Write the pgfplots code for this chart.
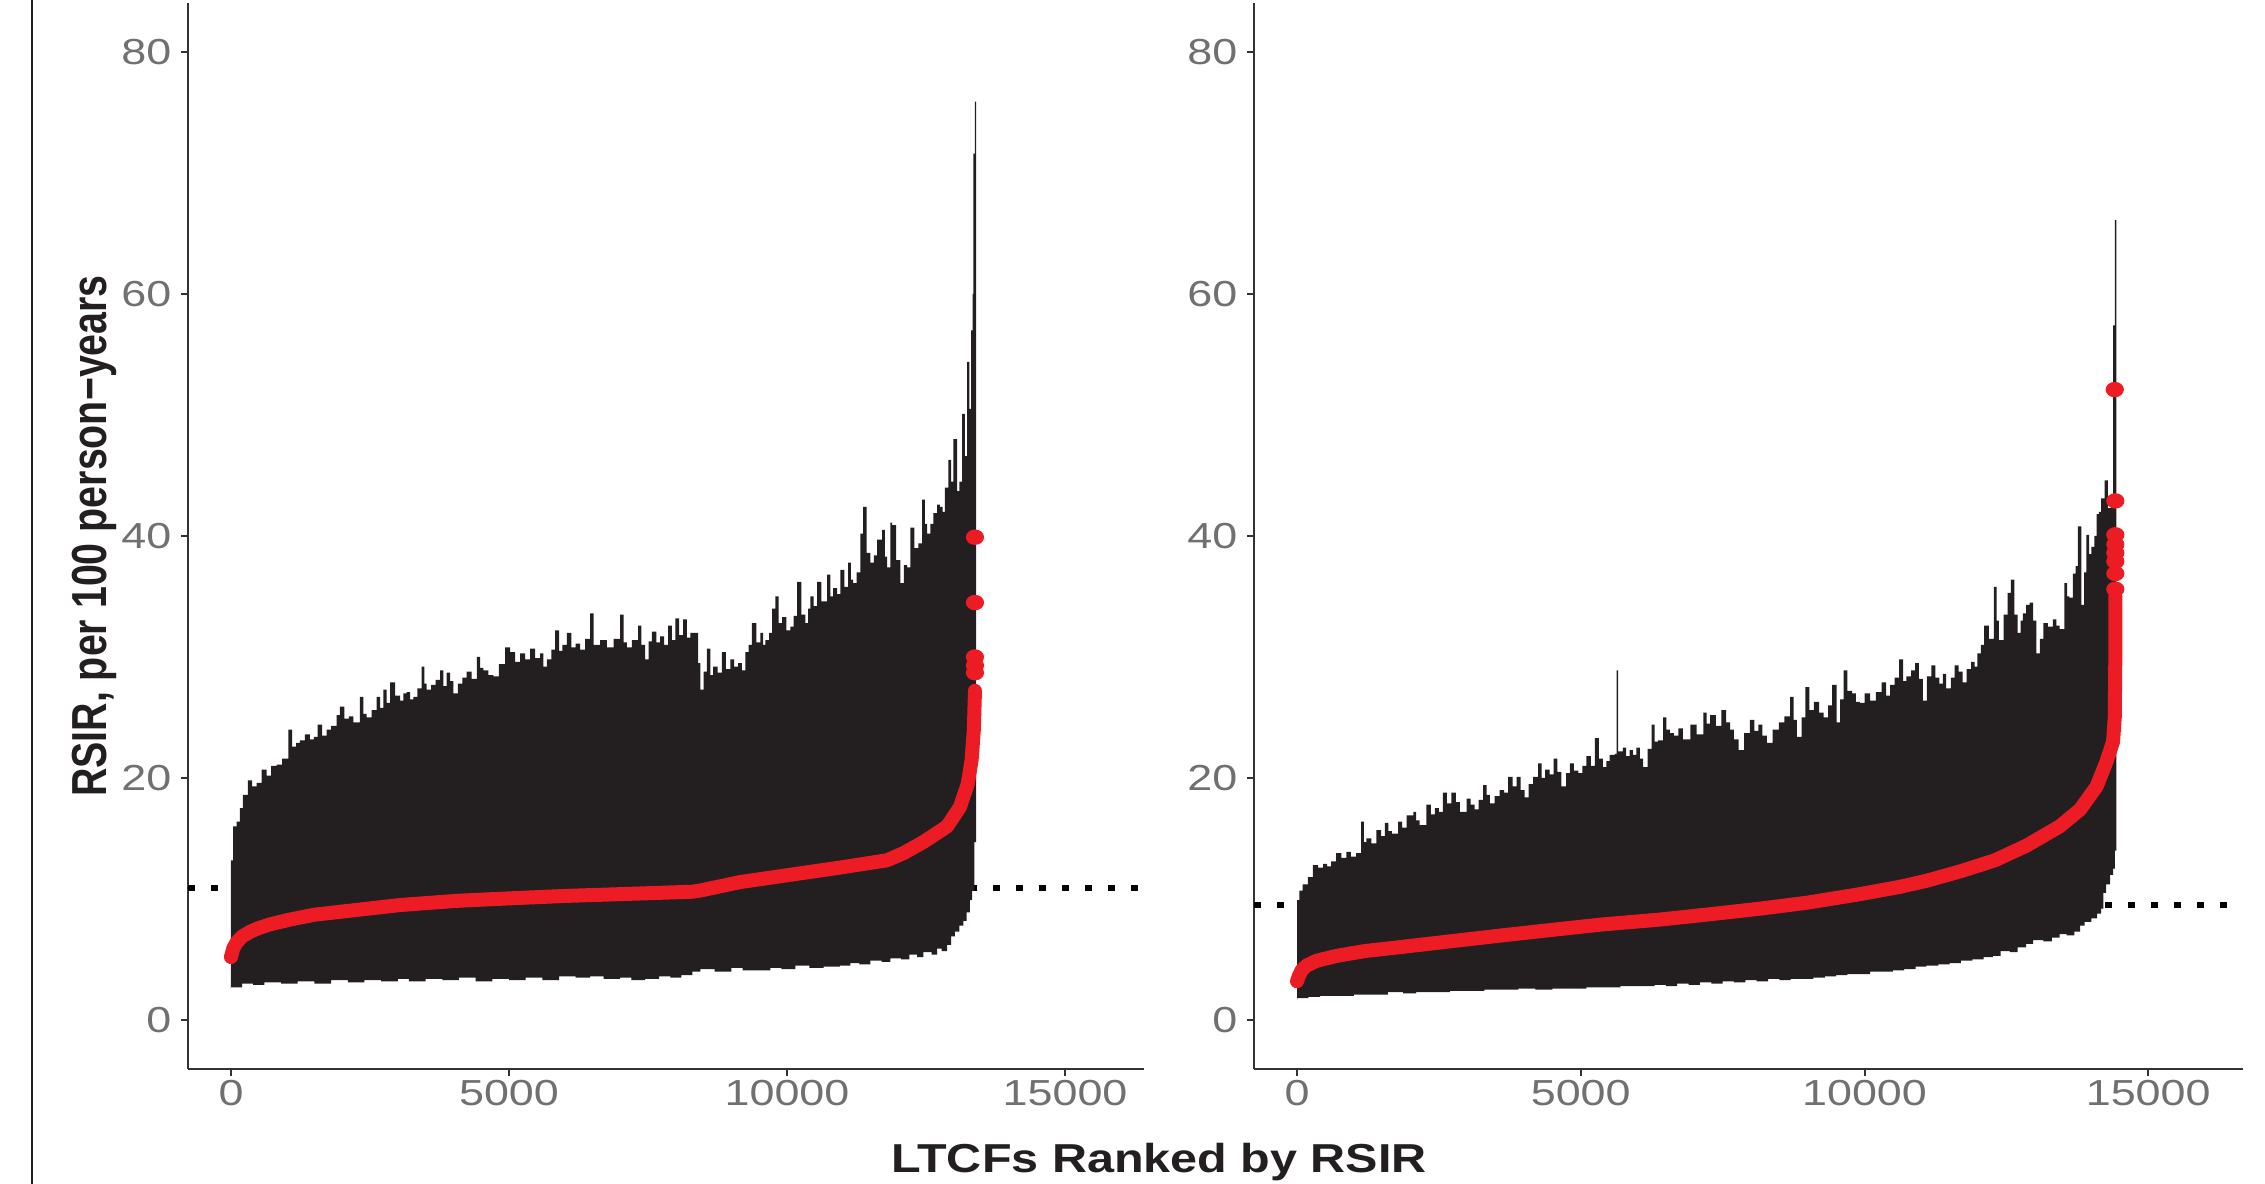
\documentclass[border=0pt]{standalone}
\usepackage{pgfplots}
\usepackage{pgfplotstable}
\pgfplotsset{compat=1.18}
\usepackage{fontspec}
\setmainfont{Liberation Sans}
\newfontfamily\tickfont{Liberation Sans}[FakeStretch=1.24]
\newfontfamily\xlabfont{Liberation Sans}[FakeStretch=1.2]
\newfontfamily\ylabfont{Liberation Sans}[FakeStretch=0.8]

\definecolor{bar}{HTML}{231F20}
\definecolor{pt}{HTML}{ED1C24}
\definecolor{tickgray}{HTML}{707070}
\definecolor{axgray}{HTML}{333333}

% left panel: CI band (upper edge left to right, then lower edge back)
\pgfplotstableread{
x y
0 13.2
40 16.0
100 16.4
160 17.5
216 18.6
306 19.8
380 19.3
460 19.6
550 20.7
640 20.2
720 21.0
820 21.1
920 21.6
1030 24.0
1100 22.6
1170 22.9
1240 23.1
1330 23.6
1420 23.2
1490 23.4
1560 24.4
1640 23.5
1720 24.0
1800 24.3
1900 25.2
1960 25.9
2040 24.9
2120 25.1
2200 24.6
2320 26.7
2380 25.3
2440 25.0
2530 25.6
2620 26.7
2680 25.8
2740 27.3
2800 26.2
2860 27.9
2950 26.8
3040 26.4
3100 27.0
3160 27.1
3220 26.5
3280 26.7
3350 27.4
3430 29.2
3480 27.8
3520 27.3
3600 27.7
3680 28.1
3760 28.9
3820 27.6
3880 28.7
3940 28.0
4000 27.0
4080 27.8
4160 28.3
4240 28.8
4330 28.2
4420 30.0
4480 29.1
4540 28.9
4630 28.5
4720 28.4
4820 29.4
4930 30.8
5020 30.4
5110 29.6
5200 30.3
5290 29.8
5380 30.7
5470 29.9
5560 30.3
5620 29.2
5680 29.8
5760 30.6
5830 32.2
5900 30.5
5960 31.0
6040 32.0
6120 30.8
6200 31.1
6280 30.6
6370 31.5
6460 33.6
6520 31.0
6640 31.4
6760 30.8
6880 31.5
7000 33.5
7060 31.2
7120 30.8
7210 31.4
7320 32.6
7380 31.0
7450 29.8
7510 31.3
7570 32.1
7650 31.2
7720 31.7
7790 31.0
7860 32.6
7930 31.4
7990 33.2
8060 31.8
8130 33.1
8200 31.6
8260 32.0
8350 32.0
8400 29.5
8440 27.3
8500 28.8
8560 30.7
8620 28.5
8670 29.2
8750 28.7
8830 30.4
8900 29.0
8980 29.8
9050 29.2
9120 29.5
9190 28.9
9250 30.4
9310 31.0
9370 32.8
9450 31.2
9520 32.0
9570 31.0
9610 31.4
9680 32.0
9730 34.0
9790 35.0
9850 32.8
9910 33.3
9990 32.2
10060 32.5
10120 33.4
10180 36.2
10260 33.5
10330 32.8
10380 34.0
10420 35.0
10480 34.2
10540 36.2
10620 34.6
10720 36.8
10780 35.0
10830 35.7
10900 35.2
10960 37.2
11030 35.8
11100 37.8
11150 36.4
11190 36.1
11250 37.0
11320 40.2
11370 42.4
11430 38.6
11500 37.8
11560 38.4
11620 39.7
11710 40.5
11760 38.3
11800 37.4
11860 41.1
11890 40.9
11960 38.0
12040 36.1
12100 37.6
12160 37.4
12220 40.7
12290 39.0
12360 39.4
12430 43.0
12480 41.0
12520 40.2
12580 41.0
12630 41.9
12700 42.6
12750 42.4
12800 42.0
12840 44.0
12900 46.3
12950 44.5
12990 48.0
13060 43.7
13100 44.5
13150 50.1
13200 46.6
13240 54.4
13280 50.5
13310 57.0
13340 60.0
13350 71.6
13380 75.9
13400 75.9
13400 14.7
13370 10.7
13330 9.9
13290 8.9
13230 8.2
13170 7.8
13100 7.3
13020 6.9
12950 6.2
12880 5.7
12780 5.9
12700 5.4
12600 5.6
12450 5.2
12340 5.4
12200 5.0
12050 5.1
11860 4.8
11700 4.9
11500 4.6
11300 4.7
11140 4.5
10950 4.4
10660 4.3
10400 4.5
10150 4.2
9900 4.3
9700 4.1
9460 4.1
9200 4.3
9000 4.0
8700 4.2
8440 4.0
8300 3.7
8100 3.5
7900 3.6
7700 3.4
7450 3.3
7200 3.5
7000 3.4
6700 3.6
6460 3.5
6200 3.6
5900 3.3
5600 3.5
5300 3.3
5000 3.4
4700 3.2
4400 3.5
4100 3.3
3800 3.4
3500 3.2
3200 3.4
3000 3.2
2700 3.3
2400 3.1
2100 3.3
1800 3.0
1500 3.2
1200 3.0
900 3.1
600 2.9
400 3.0
200 2.7
0 2.5
}\ciL

\pgfplotstableread{
x y
0 5.2
40 5.9
100 6.4
200 6.9
350 7.3
500 7.6
700 7.9
1060 8.3
1500 8.7
2270 9.1
3040 9.5
4070 9.85
5000 10.05
6000 10.25
7000 10.4
8300 10.6
8440 10.7
9160 11.4
10060 12.0
10960 12.6
11800 13.2
12100 13.8
12450 14.7
12880 16.0
13110 17.6
13250 19.5
13320 21.5
13360 24.0
13380 27.2
}\redL

% right panel
\pgfplotstableread{
x y
0 9.9
40 10.7
100 11.2
190 11.8
280 12.8
370 12.6
460 12.9
530 12.7
600 13.1
690 13.8
780 13.4
870 13.9
950 13.5
1040 13.8
1130 16.4
1180 14.7
1220 15.0
1310 14.6
1400 15.7
1480 15.2
1550 16.3
1610 15.6
1670 15.4
1780 16.4
1850 15.9
1930 16.9
2050 17.2
2100 16.5
2160 16.1
2280 17.8
2360 17.0
2430 17.5
2500 17.2
2570 18.8
2640 17.9
2720 18.8
2800 18.0
2870 17.2
2990 18.3
3060 17.8
3130 17.4
3200 18.2
3280 19.4
3340 18.6
3400 17.9
3480 18.5
3570 19.0
3650 18.8
3720 20.1
3800 19.3
3870 20.1
3940 19.0
4010 18.4
4080 19.5
4160 20.1
4250 21.2
4310 20.0
4370 20.7
4450 20.3
4520 21.6
4590 20.5
4660 19.3
4740 20.4
4810 21.2
4880 20.6
4960 20.4
5030 21.0
5100 21.8
5180 21.0
5250 23.3
5320 21.6
5390 20.9
5450 21.4
5510 21.9
5600 22.0
5630 28.9
5660 22.2
5740 22.5
5800 21.8
5860 22.3
5920 21.9
5980 22.5
6040 21.6
6100 20.9
6180 22.4
6250 24.4
6300 23.0
6360 23.1
6450 25.0
6510 24.0
6570 23.7
6640 23.5
6720 24.1
6800 23.2
6930 24.4
7040 23.6
7160 25.4
7220 24.5
7280 25.2
7380 24.3
7480 25.6
7560 24.6
7630 24.0
7700 23.2
7780 22.3
7880 23.7
7980 24.8
8060 23.9
8130 24.4
8200 23.5
8280 22.9
8380 24.0
8490 24.6
8590 25.1
8690 26.7
8750 24.8
8810 23.4
8890 25.0
8960 27.5
9030 25.6
9110 26.3
9200 25.4
9280 25.0
9360 26.0
9430 27.7
9510 24.6
9570 26.5
9630 28.9
9700 27.2
9780 27.0
9850 26.3
9920 26.2
10000 27.0
10100 26.4
10200 27.1
10300 27.9
10380 26.8
10450 27.7
10530 28.3
10610 29.8
10680 28.0
10740 28.4
10820 28.9
10890 29.5
10960 28.2
11030 26.4
11100 28.4
11180 29.3
11250 28.3
11320 27.8
11380 28.6
11440 27.4
11520 28.3
11590 29.3
11660 28.8
11730 27.9
11800 29.0
11880 29.6
11940 29.2
11990 30.3
12050 31.0
12110 32.6
12190 31.5
12280 35.8
12330 33.0
12370 31.4
12450 33.5
12520 35.3
12580 36.4
12640 33.5
12700 32.0
12750 33.0
12790 33.6
12850 34.3
12910 34.5
12970 33.0
13030 30.3
13090 31.5
13150 32.8
13230 32.5
13320 33.1
13380 32.6
13440 32.3
13520 36.1
13570 35.0
13610 34.9
13670 36.9
13720 37.5
13760 40.8
13820 34.3
13870 37.0
13910 40.1
13960 38.5
14000 39.1
14050 40.0
14090 41.8
14130 42.0
14170 43.1
14230 44.6
14290 42.3
14340 43.0
14380 57.4
14410 66.1
14440 66.1
14440 14.0
14410 12.5
14380 12.0
14330 11.2
14260 10.5
14210 9.2
14170 8.8
14100 8.4
14000 8.1
13880 7.8
13800 7.3
13700 7.0
13560 7.1
13440 6.8
13300 6.5
13150 6.6
12970 6.3
12850 6.0
12700 5.6
12560 5.7
12400 5.3
12260 5.2
12100 5.0
11900 4.9
11700 4.7
11500 4.6
11300 4.5
11090 4.4
10900 4.2
10700 4.1
10500 4.0
10300 4.0
10100 3.8
9920 3.8
9700 3.7
9500 3.6
9300 3.5
9100 3.4
8900 3.4
8700 3.3
8500 3.4
8300 3.2
8100 3.3
7900 3.1
7700 3.2
7500 3.0
7300 3.1
7100 2.9
6900 3.0
6700 2.8
6500 2.9
6300 2.8
6000 2.8
5700 2.7
5400 2.7
5100 2.6
4800 2.6
4500 2.5
4200 2.6
3900 2.5
3630 2.5
3300 2.4
3000 2.4
2700 2.3
2400 2.3
2100 2.2
1870 2.3
1600 2.1
1300 2.1
1000 2.0
700 2.0
405 1.9
200 1.8
0 1.65
}\ciR

\pgfplotstableread{
x y
0 3.2
30 3.6
80 4.1
170 4.5
350 4.9
700 5.3
1200 5.7
1870 6.05
2700 6.5
3630 7.0
4500 7.45
5390 7.9
6400 8.3
7300 8.75
8160 9.2
9000 9.7
9920 10.4
10620 11.0
11090 11.5
11700 12.3
12300 13.2
12850 14.4
13440 16.0
13800 17.4
14090 19.3
14260 21.3
14380 23.0
14410 25.0
14420 30.0
14420 35.0
}\redR

\pgfplotsset{
  rsir/.style={
    scale only axis, height=10.66cm, anchor=south west,
    axis lines*=left, clip=true,
    ymin=-4.05, ymax=84.05,
    scaled x ticks=false, scaled y ticks=false,
    xtick={0,5000,10000,15000}, xticklabels={0,5000,10000,15000},
    ytick={0,20,40,60,80}, yticklabels={0,20,40,60,80},
    tick align=outside, major tick length=0.07cm,
    tick style={axgray, line width=0.02cm},
    axis line style={axgray, line width=0.02cm},
    ticklabel style={font=\tickfont\fontsize{10.3}{12}\selectfont, text=tickgray, inner sep=0pt},
    xticklabel style={anchor=north, yshift=-0.04cm},
    yticklabel style={anchor=east, xshift=-0.09cm},
  },
  ci/.style={const plot, fill=bar, draw=none},
  est/.style={pt, line width=0.14cm, line cap=round, line join=round},
  outl/.style={only marks, mark=*, mark size=0.07cm, mark options={draw=none, fill=pt, xscale=1.2}},
  ref/.style={black, line width=0.06cm, dash pattern=on 0.07cm off 0.16cm},
}

\begin{document}
\begin{tikzpicture}
\useasboundingbox (0,0) rectangle (22.65,11.84);
\draw[bar, line width=0.02cm] (0.32,0) -- (0.32,11.84);

\begin{axis}[rsir, at={(1.88cm,1.15cm)}, width=9.56cm, xmin=-773, xmax=16420]
\addplot[ref] coordinates {(-773,10.9) (16420,10.9)};
\addplot[ci] table {\ciL};
\addplot[est] table {\redL};
\addplot[outl, pt] coordinates {(13380,28.7) (13380,29.3) (13380,30.0) (13380,34.5) (13380,39.9)};
\end{axis}

\begin{axis}[rsir, at={(12.54cm,1.15cm)}, width=9.89cm, xmin=-758, xmax=16670]
\addplot[ref] coordinates {(-758,9.5) (16670,9.5)};
\addplot[ci] table {\ciR};
\addplot[est] table {\redR};
\addplot[outl, pt] coordinates {(14420,35.6) (14420,36.9) (14420,37.9) (14420,38.6) (14420,39.3) (14420,40.1) (14420,42.9) (14410,52.1)};
\end{axis}

\node[rotate=90, text=bar, font=\ylabfont\bfseries\fontsize{14}{16}\selectfont] at (0.94,6.48) {RSIR, per 100 person−years};
\node[anchor=base, text=bar, font=\xlabfont\bfseries\fontsize{11.5}{13}\selectfont] at (11.59,0.11) {LTCFs Ranked by RSIR};
\end{tikzpicture}
\end{document}
